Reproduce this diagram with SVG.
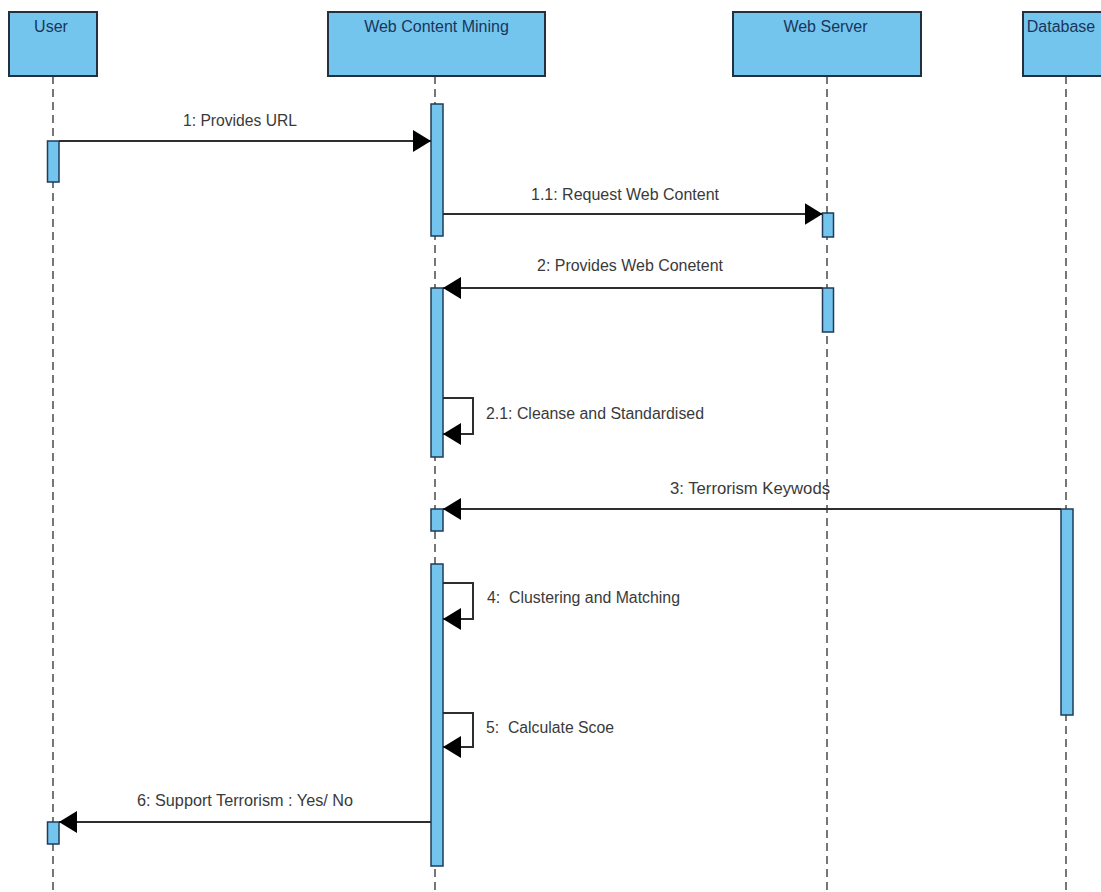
<svg xmlns="http://www.w3.org/2000/svg" width="1101" height="892" viewBox="0 0 1101 892">
  <defs>
    <style>
      .head { fill: #73c5ee; stroke: #22303f; stroke-width: 2; }
      .head-text { font-family: "Liberation Sans", Arial, sans-serif; font-size: 16px; fill: #1a355a; text-anchor: middle; }
      .life { stroke: #555; stroke-width: 1.6; stroke-dasharray: 8 5; fill: none; }
      .act { fill: #73c5ee; stroke: #1f3b57; stroke-width: 1.5; }
      .msg { stroke: #2e2e2e; stroke-width: 2; fill: none; marker-end: url(#arrow); }
      .label { font-family: "Liberation Sans", Arial, sans-serif; font-size: 16px; fill: #3a3a3a; white-space: pre; }
      .mid { text-anchor: middle; }
    </style>
    <marker id="arrow" markerUnits="userSpaceOnUse" markerWidth="19" markerHeight="23" refX="18" refY="11" orient="auto">
      <path d="M0,0 L18,11 L0,22 z" fill="#000"/>
    </marker>
  </defs>

  <rect width="1101" height="892" fill="#fff"/>

  <!-- lifeline heads, dashed lifelines and activation bars -->
  <g id="user">
    <line class="life" x1="53" y1="76" x2="53" y2="892"/>
    <rect class="head" x="9" y="12" width="88" height="64"/>
    <text class="head-text" x="51" y="32">User</text>
    <rect class="act" x="47.5" y="141" width="11.5" height="41"/>
    <rect class="act" x="47.5" y="822" width="11.5" height="22"/>
  </g>

  <g id="web-content-mining">
    <line class="life" x1="435" y1="76" x2="435" y2="892"/>
    <rect class="head" x="328" y="12" width="217" height="64"/>
    <text class="head-text" x="436.5" y="32">Web Content Mining</text>
    <rect class="act" x="431" y="104" width="12" height="132"/>
    <rect class="act" x="431" y="288" width="12" height="169"/>
    <rect class="act" x="431" y="509" width="12" height="22"/>
    <rect class="act" x="431" y="564" width="12" height="302"/>
  </g>

  <g id="web-server">
    <line class="life" x1="827" y1="76" x2="827" y2="892"/>
    <rect class="head" x="733" y="12" width="188" height="64"/>
    <text class="head-text" x="825.5" y="32">Web Server</text>
    <rect class="act" x="822.5" y="213" width="11" height="24"/>
    <rect class="act" x="822.5" y="288" width="11" height="44"/>
  </g>

  <g id="database">
    <line class="life" x1="1066" y1="76" x2="1066" y2="892"/>
    <rect class="head" x="1023" y="12" width="100" height="64"/>
    <text class="head-text" x="1061" y="32">Database</text>
    <rect class="act" x="1061" y="509" width="12" height="206"/>
  </g>

  <!-- messages -->
  <g id="messages">
    <path class="msg" d="M59,141 H431"/>
    <text class="label mid" x="240" y="126" textLength="114" lengthAdjust="spacingAndGlyphs">1: Provides URL</text>

    <path class="msg" d="M443,214 H822.5"/>
    <text class="label mid" x="625" y="200" textLength="188" lengthAdjust="spacingAndGlyphs">1.1: Request Web Content</text>

    <path class="msg" d="M822.5,288 H443"/>
    <text class="label mid" x="630" y="271" textLength="186" lengthAdjust="spacingAndGlyphs">2: Provides Web Conetent</text>

    <path class="msg" d="M443,398 H473 V434 H443"/>
    <text class="label" x="486" y="419" textLength="218" lengthAdjust="spacingAndGlyphs">2.1: Cleanse and Standardised</text>

    <path class="msg" d="M1061,509 H443"/>
    <text class="label mid" x="750" y="494" textLength="160" lengthAdjust="spacingAndGlyphs">3: Terrorism Keywods</text>

    <path class="msg" d="M443,583 H473 V619 H443"/>
    <text class="label" x="487" y="603" xml:space="preserve" textLength="193" lengthAdjust="spacingAndGlyphs">4:  Clustering and Matching</text>

    <path class="msg" d="M443,713 H473 V747 H443"/>
    <text class="label" x="486" y="733" xml:space="preserve" textLength="128" lengthAdjust="spacingAndGlyphs">5:  Calculate Scoe</text>

    <path class="msg" d="M431,822 H59"/>
    <text class="label mid" x="245" y="806" textLength="216" lengthAdjust="spacingAndGlyphs">6: Support Terrorism : Yes/ No</text>
  </g>
</svg>
